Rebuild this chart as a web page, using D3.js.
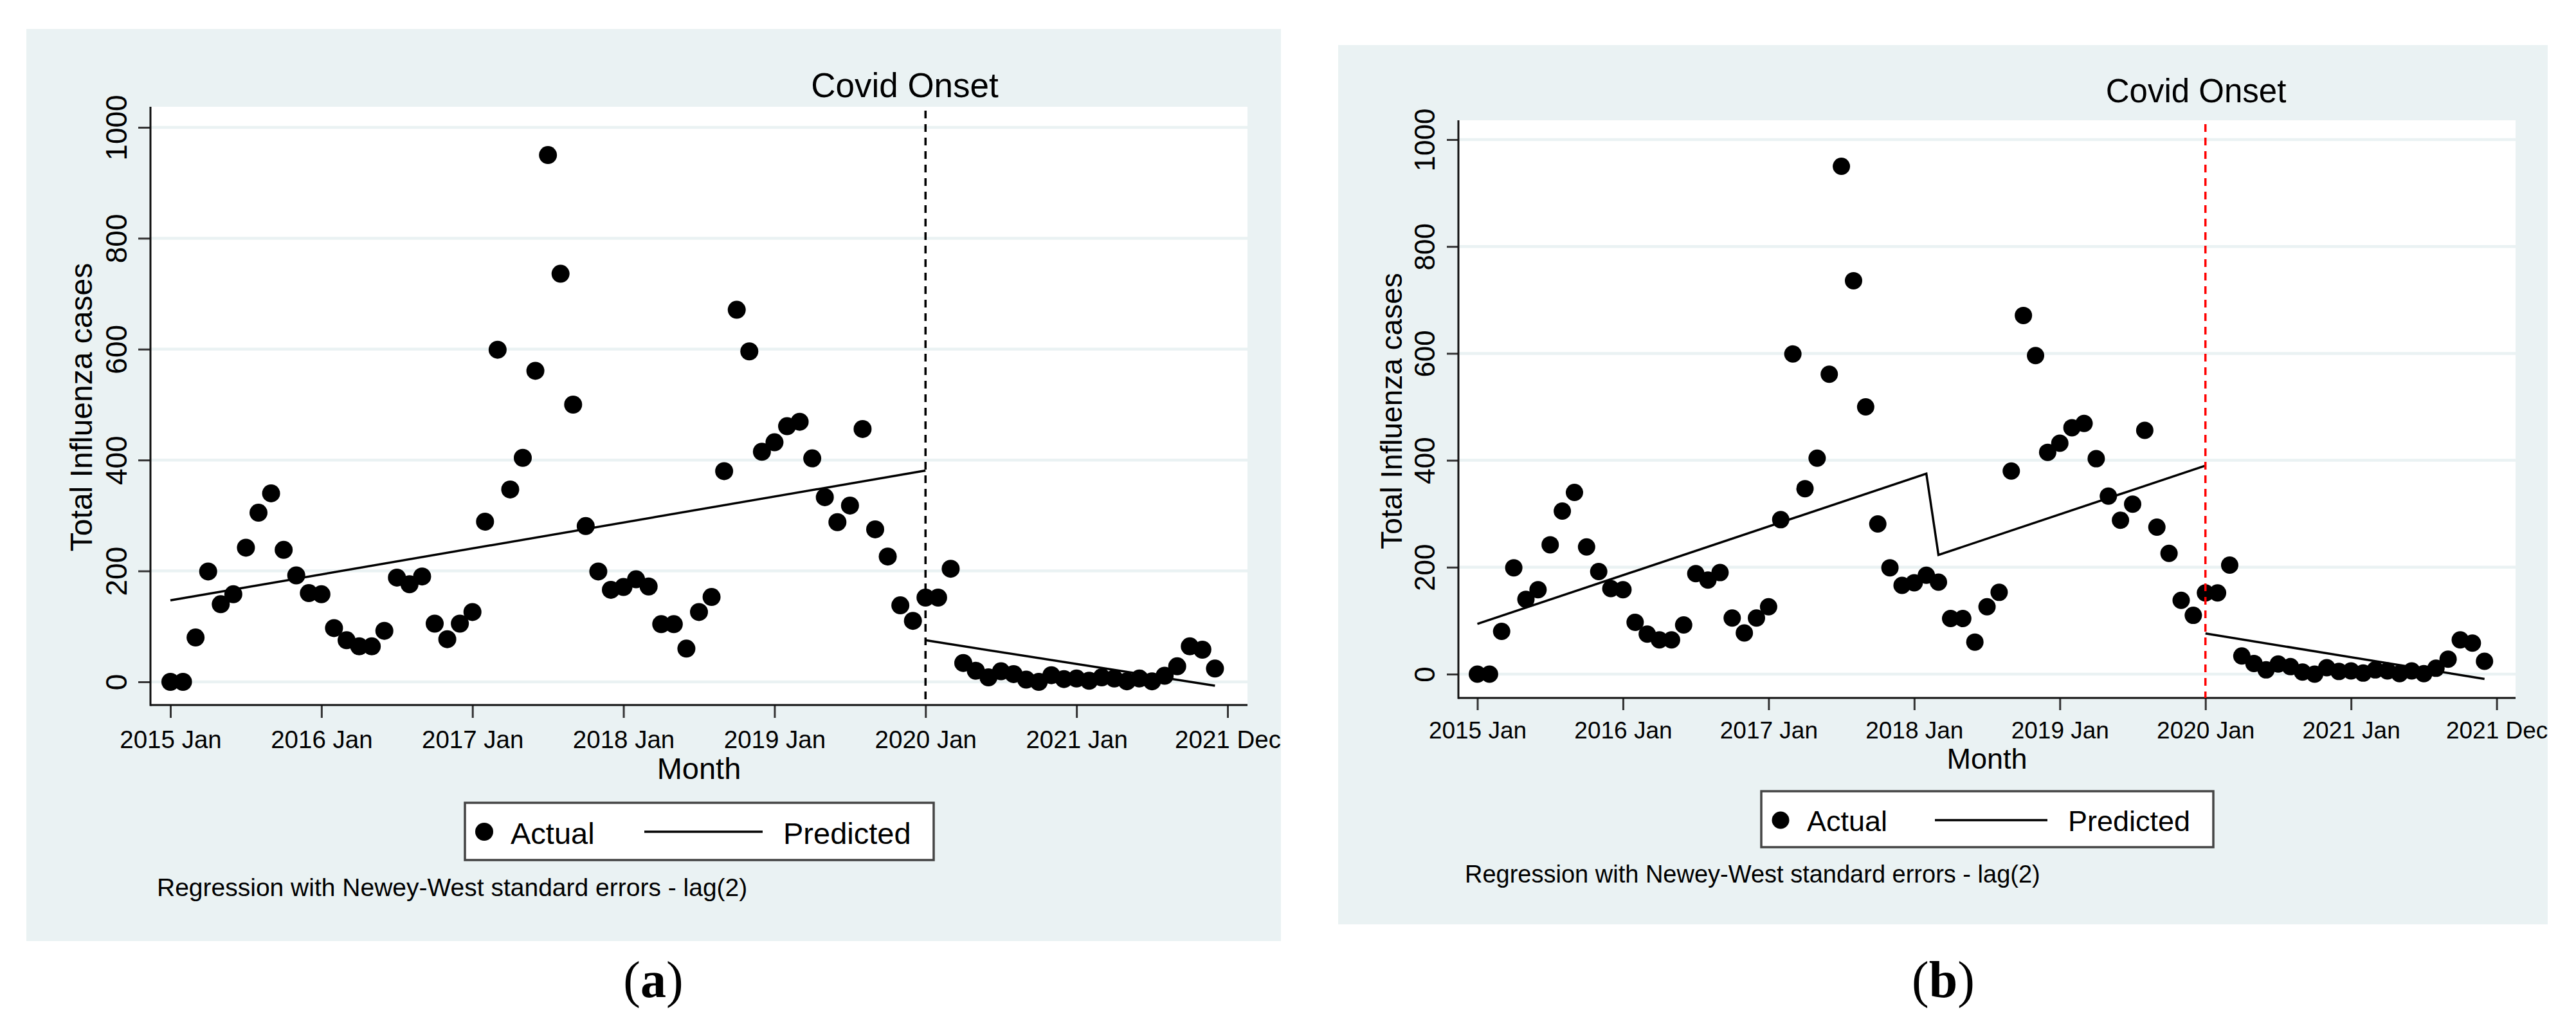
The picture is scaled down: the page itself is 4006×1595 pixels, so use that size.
<!DOCTYPE html>
<html>
<head>
<meta charset="utf-8">
<script src="https://cdn.jsdelivr.net/npm/d3@7"></script>
<style>
  body { margin: 0; background: #fff; }
  text { font-family: "Liberation Sans", Arial, sans-serif; fill: #000; }
</style>
</head>
<body>
<svg id="chart" width="4006" height="1595"></svg>
<script>
// monthly totals, 2015 Jan .. 2021 Dec (index = months since 2015 Jan)
const actual = [
  0, 0, 80, 199, 140, 158, 242, 305, 340, 238, 192, 160,
  158, 97, 75, 64, 64, 92, 188, 176, 190, 105, 77, 105,
  126, 289, 599, 347, 404, 561, 950, 736, 500, 281, 199, 166,
  171, 185, 172, 104, 104, 60, 126, 153, 380, 671, 596, 415,
  432, 461, 469, 403, 333, 288, 318, 456, 275, 226, 138, 110,
  152, 152, 204, 34, 20, 8, 19, 14, 4, 0, 12, 5,
  6, 2, 8, 6, 1, 6, 1, 11, 28, 64, 58, 24
];

// predicted segments [month, value]
const predictedA = [
  [[0, 147], [60, 381]],
  [[60, 75], [83, -7]]
];
const predictedB = [
  [[0, 94], [37, 375], [38, 223], [60, 390]],
  [[60, 76], [83, -9]]
];

const covidMonth = 60;
const xTicks = [0, 12, 24, 36, 48, 60, 72, 84];
const xTickLabels = ["2015 Jan", "2016 Jan", "2017 Jan", "2018 Jan", "2019 Jan", "2020 Jan", "2021 Jan", "2021 Dec"];
const yTicks = [0, 200, 400, 600, 800, 1000];

const svg = d3.select("#chart");
const bgColor = "#eaf2f3";

const panels = [
  {
    id: "a", predicted: predictedA, xlineColor: "#000",
    bg: [41, 45, 1992, 1463],
    plot: {l: 234, r: 1940, t: 166, b: 1096},
    xr: [265, 1909], yr: [1060, 198],
    title: {x: 1407, y: 151, size: 53},
    yTickSize: 46, yTickOff: 37, yTitle: {x: 143, y: 633, size: 48},
    xTickSize: 38.5, xTickOff: 67, tick: 20,
    month: {y: 1211, size: 47},
    legend: {l: 723, r: 1452, t: 1248, b: 1337, dot: 753, cy: 1293, actual: 794, line: [1002, 1186], pred: 1218, base: 1312, size: 47},
    note: {x: 244, y: 1393, size: 39},
    r: 14, caption: {x: 1016, y: 1550}
  },
  {
    id: "b", predicted: predictedB, xlineColor: "#ff0000",
    bg: [2081, 70, 3962, 1437],
    plot: {l: 2268, r: 3912, t: 187, b: 1085},
    xr: [2297.5, 3882.6], yr: [1048, 217],
    title: {x: 3415, y: 159, size: 51},
    yTickSize: 44, yTickOff: 37, yTitle: {x: 2180, y: 639, size: 46},
    xTickSize: 37, xTickOff: 63, tick: 19,
    month: {y: 1195, size: 45},
    legend: {l: 2739, r: 3442, t: 1230, b: 1317, dot: 2769, cy: 1275, actual: 2810, line: [3009, 3184], pred: 3216, base: 1292, size: 45},
    note: {x: 2278, y: 1372, size: 38},
    r: 13.5, caption: {x: 3022, y: 1550}
  }
];

panels.forEach(p => {
  const [bx0, by0, bx1, by1] = p.bg;

  svg.append("clipPath").attr("id", "clip-" + p.id)
    .append("rect").attr("x", bx0).attr("y", by0).attr("width", bx1 - bx0).attr("height", by1 - by0);

  const g = svg.append("g").attr("clip-path", `url(#clip-${p.id})`);

  g.append("rect")
    .attr("x", bx0).attr("y", by0)
    .attr("width", bx1 - bx0).attr("height", by1 - by0)
    .attr("fill", bgColor);

  // plot region
  g.append("rect")
    .attr("x", p.plot.l).attr("y", p.plot.t)
    .attr("width", p.plot.r - p.plot.l).attr("height", p.plot.b - p.plot.t)
    .attr("fill", "#fff");

  const x = d3.scaleLinear().domain([0, 84]).range(p.xr);
  const y = d3.scaleLinear().domain([0, 1000]).range(p.yr);

  // gridlines
  g.selectAll(".grid")
    .data(yTicks)
    .join("line")
    .attr("x1", p.plot.l).attr("x2", p.plot.r)
    .attr("y1", d => y(d)).attr("y2", d => y(d))
    .attr("stroke", bgColor)
    .attr("stroke-width", 4.5);

  // Y-axis
  const yAxis = g.append("g")
    .attr("transform", `translate(${p.plot.l}, 0)`)
    .call(d3.axisLeft(y).tickValues(yTicks).tickFormat(d3.format("d")).tickSize(p.tick - 1).tickSizeOuter(0));
  yAxis.select(".domain").remove();
  yAxis.selectAll(".tick line").attr("stroke", "#333").attr("stroke-width", 3);
  yAxis.selectAll(".tick text")
    .attr("transform", "rotate(-90)")
    .attr("x", 0).attr("y", -p.yTickOff).attr("dy", 0)
    .attr("text-anchor", "middle")
    .style("font-size", p.yTickSize + "px")
    .style("font-family", "'Liberation Sans', Arial, sans-serif")
    .attr("fill", "#000");

  // X-axis
  const xAxis = g.append("g")
    .attr("transform", `translate(0, ${p.plot.b})`)
    .call(d3.axisBottom(x).tickValues(xTicks).tickFormat((d, i) => xTickLabels[i]).tickSize(p.tick).tickSizeOuter(0));
  xAxis.select(".domain").remove();
  xAxis.selectAll(".tick line").attr("stroke", "#333").attr("stroke-width", 3);
  xAxis.selectAll(".tick text")
    .attr("y", p.xTickOff).attr("dy", 0)
    .style("font-size", p.xTickSize + "px")
    .style("font-family", "'Liberation Sans', Arial, sans-serif")
    .attr("fill", "#000");

  // axis lines
  g.append("line")
    .attr("x1", p.plot.l).attr("x2", p.plot.l)
    .attr("y1", p.plot.t).attr("y2", p.plot.b + 1.5)
    .attr("stroke", "#111").attr("stroke-width", 3);
  g.append("line")
    .attr("x1", p.plot.l).attr("x2", p.plot.r)
    .attr("y1", p.plot.b).attr("y2", p.plot.b)
    .attr("stroke", "#111").attr("stroke-width", 3);

  // predicted
  const line = d3.line().x(d => x(d[0])).y(d => y(d[1]));
  g.selectAll(".pred")
    .data(p.predicted)
    .join("path")
    .attr("d", line)
    .attr("fill", "none")
    .attr("stroke", "#000")
    .attr("stroke-width", 3.5)
    .attr("stroke-linejoin", "miter");

  // actual
  g.selectAll(".pt")
    .data(actual)
    .join("circle")
    .attr("cx", (d, i) => x(i))
    .attr("cy", d => y(d))
    .attr("r", p.r)
    .attr("fill", "#000");

  // covid onset line
  g.append("line")
    .attr("x1", x(covidMonth)).attr("x2", x(covidMonth))
    .attr("y1", p.plot.t + 6).attr("y2", p.plot.b)
    .attr("stroke", p.xlineColor)
    .attr("stroke-width", 3.5)
    .attr("stroke-dasharray", "12,9");

  g.append("text")
    .attr("x", p.title.x).attr("y", p.title.y)
    .attr("text-anchor", "middle")
    .style("font-size", p.title.size + "px")
    .text("Covid Onset");

  g.append("text")
    .attr("transform", `translate(${p.yTitle.x}, ${p.yTitle.y}) rotate(-90)`)
    .attr("text-anchor", "middle")
    .style("font-size", p.yTitle.size + "px")
    .text("Total Influenza cases");

  g.append("text")
    .attr("x", (p.plot.l + p.plot.r) / 2).attr("y", p.month.y)
    .attr("text-anchor", "middle")
    .style("font-size", p.month.size + "px")
    .text("Month");

  // legend
  const L = p.legend;
  g.append("rect")
    .attr("x", L.l).attr("y", L.t)
    .attr("width", L.r - L.l).attr("height", L.b - L.t)
    .attr("fill", "#fff")
    .attr("stroke", "#444")
    .attr("stroke-width", 3.5);
  g.append("circle")
    .attr("cx", L.dot).attr("cy", L.cy).attr("r", p.r)
    .attr("fill", "#000");
  g.append("text")
    .attr("x", L.actual).attr("y", L.base)
    .style("font-size", L.size + "px")
    .text("Actual");
  g.append("line")
    .attr("x1", L.line[0]).attr("x2", L.line[1])
    .attr("y1", L.cy).attr("y2", L.cy)
    .attr("stroke", "#000").attr("stroke-width", 3.5);
  g.append("text")
    .attr("x", L.pred).attr("y", L.base)
    .style("font-size", L.size + "px")
    .text("Predicted");

  g.append("text")
    .attr("x", p.note.x).attr("y", p.note.y)
    .style("font-size", p.note.size + "px")
    .text("Regression with Newey-West standard errors - lag(2)");

  // caption below the panel
  const cap = svg.append("text")
    .attr("x", p.caption.x).attr("y", p.caption.y)
    .attr("text-anchor", "middle")
    .style("font-family", "'Liberation Serif', 'Times New Roman', serif")
    .style("font-size", "80px");
  cap.append("tspan").text("(");
  cap.append("tspan").style("font-weight", "bold").text(p.id);
  cap.append("tspan").text(")");
});
</script>
</body>
</html>
